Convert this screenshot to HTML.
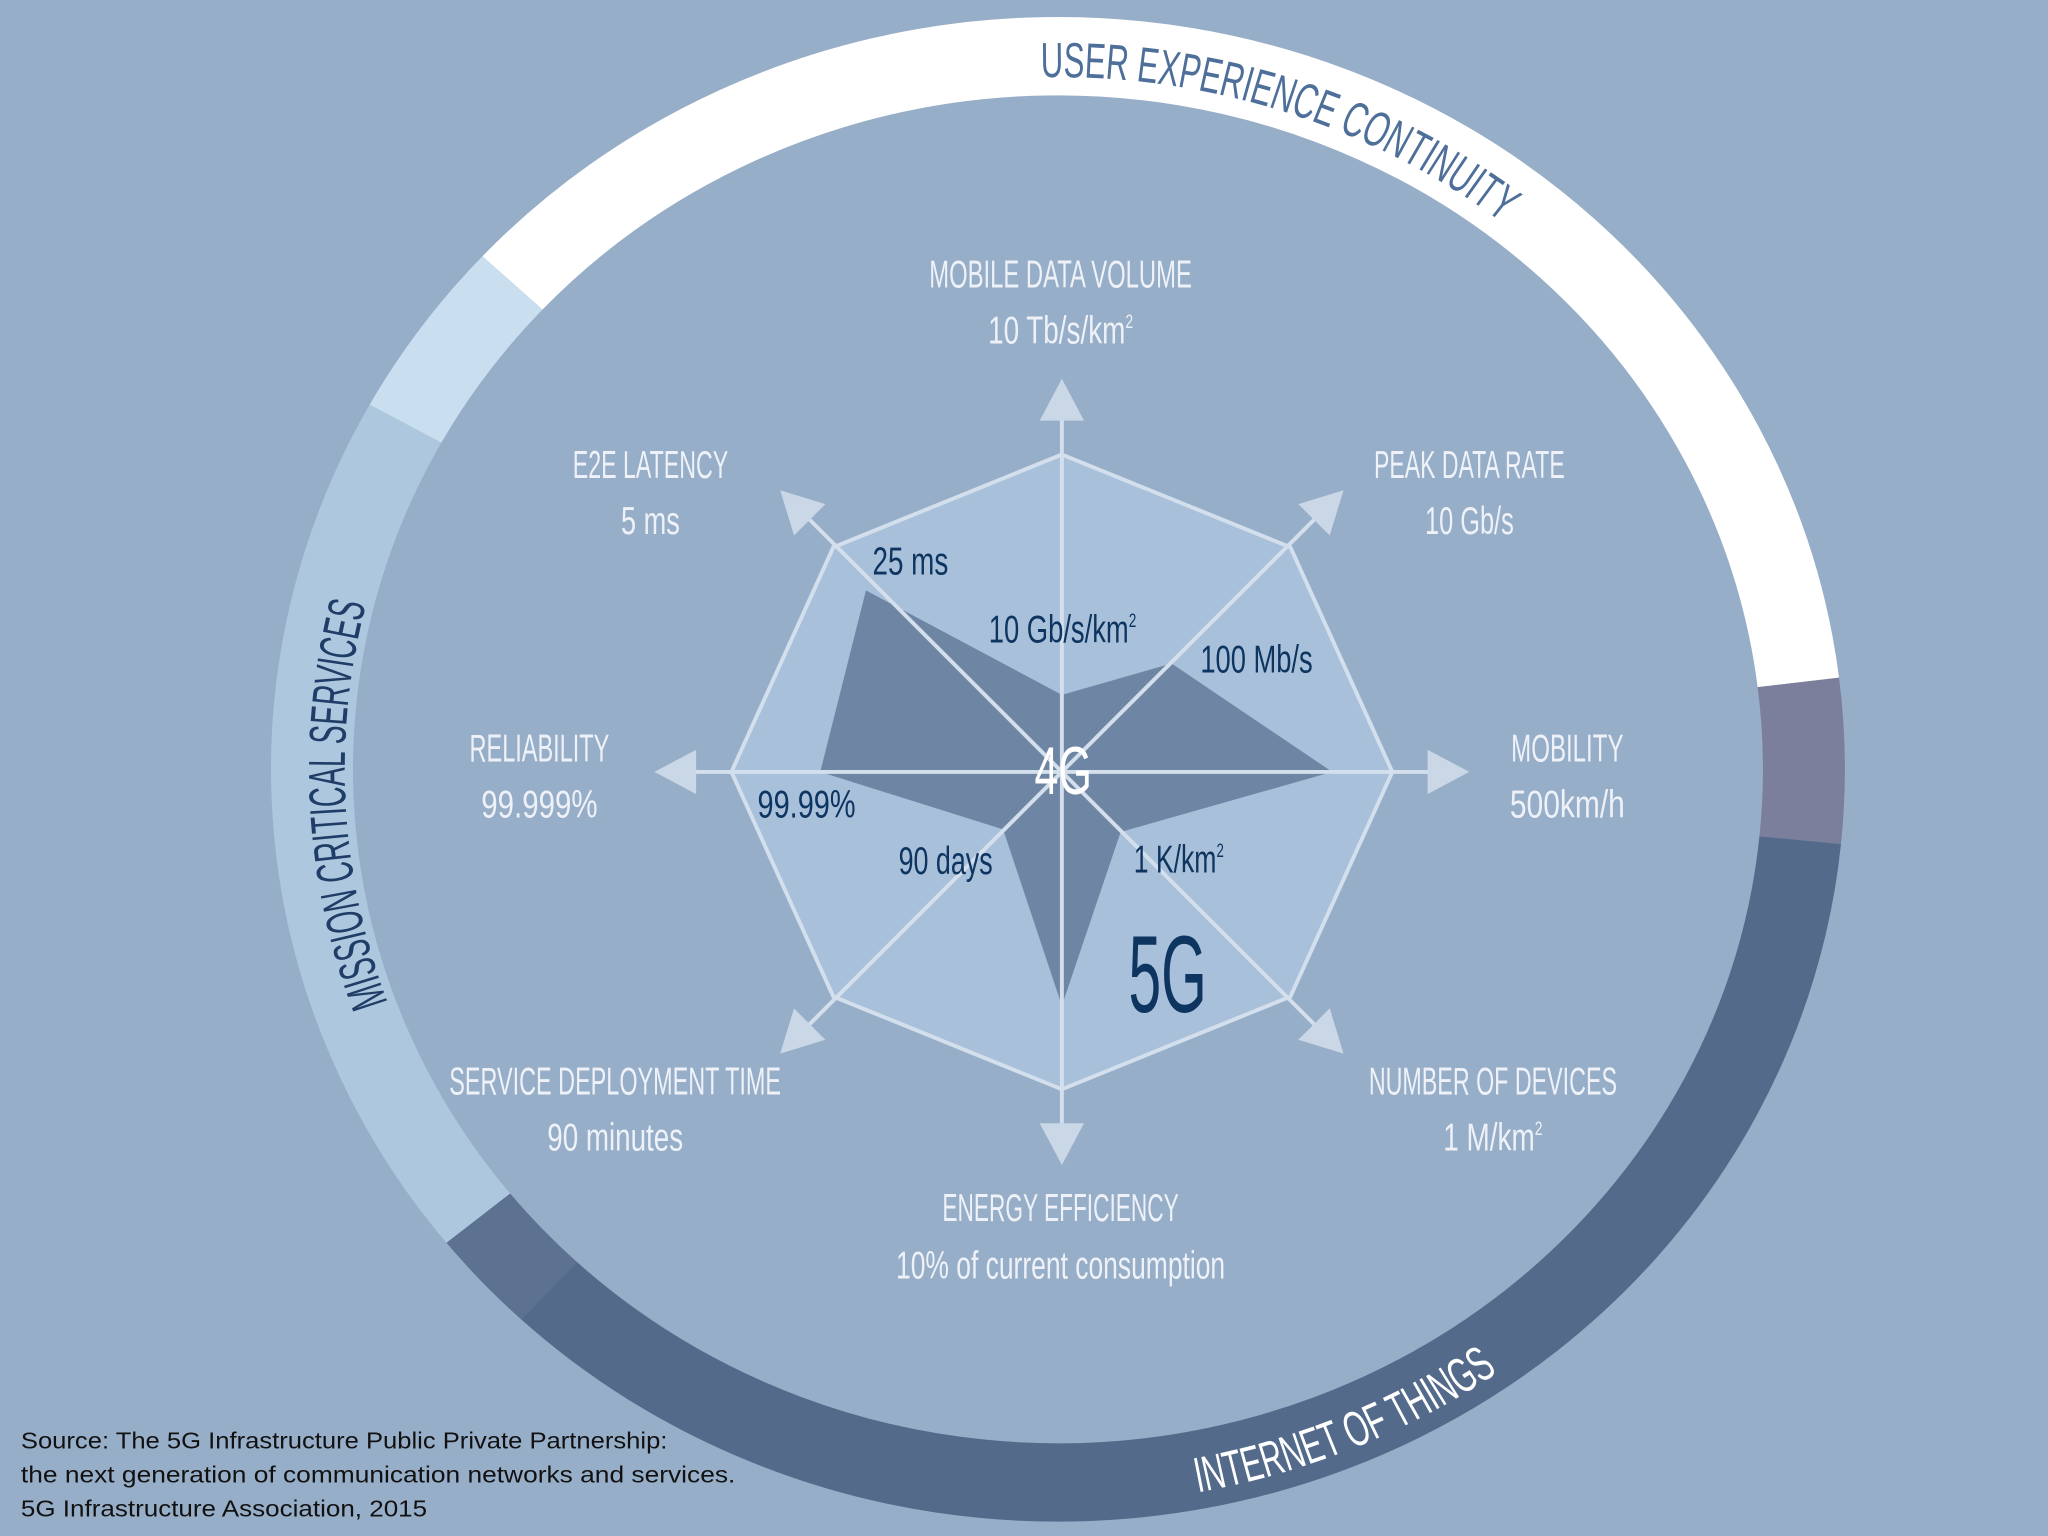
<!DOCTYPE html>
<html><head><meta charset="utf-8"><style>
html,body{margin:0;padding:0;background:#97aec8;overflow:hidden;width:2048px;height:1536px;}
svg{display:block;position:absolute;left:0;top:0;}
.c{font-family:"Liberation Sans Narrow","Liberation Sans",sans-serif;}
</style></head><body>
<svg width="2048" height="1536" viewBox="0 0 1568 1176" xmlns="http://www.w3.org/2000/svg">
<rect width="1568" height="1176" fill="#97aec8"/>
<g transform="translate(810 589) scale(1.046 1) translate(-810 -589)">
<g fill="none" stroke-width="60">
<circle cx="810" cy="589" r="546" stroke="#ffffff" stroke-dasharray="1238.8 4000" transform="rotate(-137 810 589)"/>
<circle cx="810" cy="589" r="546" stroke="#7b7f9c" stroke-dasharray="121 4000" transform="rotate(-7 810 589)"/>
<circle cx="810" cy="589" r="546" stroke="#536a8b" stroke-dasharray="1213.1 4000" transform="rotate(5.7 810 589)"/>
<circle cx="810" cy="589" r="546" stroke="#5d7190" stroke-dasharray="76.2 4000" transform="rotate(133 810 589)"/>
<circle cx="810" cy="589" r="546" stroke="#adc7df" stroke-dasharray="648 4000" transform="rotate(141 810 589)"/>
<circle cx="810" cy="589" r="546" stroke="#c9deef" stroke-dasharray="133.4 4000" transform="rotate(209 810 589)"/>
</g>
<defs>
<path id="pUser" d="M718,67.1 A530,530 0 0 1 1216,248.3"/>
<path id="pMis" d="M357.9,850 A522,522 0 0 1 357.9,328"/>
<path id="pIot" d="M810,1152 A563,563 0 0 0 1208.1,987.1"/>
</defs>
<text class="c" font-size="38" fill="#4d6f99"><textPath href="#pUser" startOffset="80" textLength="362" lengthAdjust="spacingAndGlyphs">USER EXPERIENCE CONTINUITY</textPath></text>
<text class="c" font-size="38" fill="#1f3d66"><textPath href="#pMis" startOffset="91" textLength="310" lengthAdjust="spacingAndGlyphs">MISSION CRITICAL SERVICES</textPath></text>
<text class="c" font-size="38" fill="#ffffff"><textPath href="#pIot" startOffset="103" textLength="240" lengthAdjust="spacingAndGlyphs">INTERNET OF THINGS</textPath></text>
</g>

<polygon points="813,348 988,419 1066,591 988,763 813,834 638,763 560,591 638,419" fill="#a9c0da" stroke="#d3dfec" stroke-width="3"/>
<polygon points="813,532 897,508 1020,591 858,637 813,770 768,635 628,591 663,452" fill="#6e86a3"/>
<g stroke="#d3dfec" stroke-width="3">
<line x1="813" y1="591" x2="813" y2="310" transform="rotate(0 813 591)"/>
<line x1="813" y1="591" x2="813" y2="310" transform="rotate(45 813 591)"/>
<line x1="813" y1="591" x2="813" y2="310" transform="rotate(90 813 591)"/>
<line x1="813" y1="591" x2="813" y2="310" transform="rotate(135 813 591)"/>
<line x1="813" y1="591" x2="813" y2="310" transform="rotate(180 813 591)"/>
<line x1="813" y1="591" x2="813" y2="310" transform="rotate(225 813 591)"/>
<line x1="813" y1="591" x2="813" y2="310" transform="rotate(270 813 591)"/>
<line x1="813" y1="591" x2="813" y2="310" transform="rotate(315 813 591)"/>
</g>
<g fill="#c9d7e6">
<polygon points="813,290 830,322 796,322" transform="rotate(0 813 591)"/>
<polygon points="813,286 830,318 796,318" transform="rotate(45 813 591)"/>
<polygon points="813,279 830,311 796,311" transform="rotate(90 813 591)"/>
<polygon points="813,286 830,318 796,318" transform="rotate(135 813 591)"/>
<polygon points="813,290 830,322 796,322" transform="rotate(180 813 591)"/>
<polygon points="813,286 830,318 796,318" transform="rotate(225 813 591)"/>
<polygon points="813,279 830,311 796,311" transform="rotate(270 813 591)"/>
<polygon points="813,286 830,318 796,318" transform="rotate(315 813 591)"/>
</g>

<g class="c" fill="#eef2f8" font-size="30" text-anchor="middle">
<text x="812" y="220" textLength="201" lengthAdjust="spacingAndGlyphs">MOBILE DATA VOLUME</text>
<text x="812" y="263" textLength="111" lengthAdjust="spacingAndGlyphs">10 Tb/s/km<tspan font-size="15" dy="-12">2</tspan></text>
<text x="498" y="366" textLength="119" lengthAdjust="spacingAndGlyphs">E2E LATENCY</text>
<text x="498" y="409" textLength="45" lengthAdjust="spacingAndGlyphs">5 ms</text>
<text x="1125" y="366" textLength="146" lengthAdjust="spacingAndGlyphs">PEAK DATA RATE</text>
<text x="1125" y="409" textLength="68" lengthAdjust="spacingAndGlyphs">10 Gb/s</text>
<text x="413" y="583" textLength="107" lengthAdjust="spacingAndGlyphs">RELIABILITY</text>
<text x="413" y="626" textLength="89" lengthAdjust="spacingAndGlyphs">99.999%</text>
<text x="1200" y="583" textLength="86" lengthAdjust="spacingAndGlyphs">MOBILITY</text>
<text x="1200" y="626" textLength="88" lengthAdjust="spacingAndGlyphs">500km/h</text>
<text x="471" y="838" textLength="254" lengthAdjust="spacingAndGlyphs">SERVICE DEPLOYMENT TIME</text>
<text x="471" y="881" textLength="104" lengthAdjust="spacingAndGlyphs">90 minutes</text>
<text x="1143" y="838" textLength="190" lengthAdjust="spacingAndGlyphs">NUMBER OF DEVICES</text>
<text x="1143" y="881" textLength="76" lengthAdjust="spacingAndGlyphs">1 M/km<tspan font-size="15" dy="-12">2</tspan></text>
<text x="812" y="935" textLength="181" lengthAdjust="spacingAndGlyphs">ENERGY EFFICIENCY</text>
<text x="812" y="979" textLength="252" lengthAdjust="spacingAndGlyphs">10% of current consumption</text>
</g>
<g class="c" fill="#0d3560" font-size="30">
<text x="668" y="440" textLength="58" lengthAdjust="spacingAndGlyphs">25 ms</text>
<text x="757" y="492" textLength="113" lengthAdjust="spacingAndGlyphs">10 Gb/s/km<tspan font-size="15" dy="-12">2</tspan></text>
<text x="919" y="515" textLength="86" lengthAdjust="spacingAndGlyphs">100 Mb/s</text>
<text x="580" y="626" textLength="75" lengthAdjust="spacingAndGlyphs">99.99%</text>
<text x="688" y="669" textLength="72" lengthAdjust="spacingAndGlyphs">90 days</text>
<text x="868" y="668" textLength="69" lengthAdjust="spacingAndGlyphs">1 K/km<tspan font-size="15" dy="-12">2</tspan></text>
</g>
<text class="c" x="814" y="608" font-size="52" fill="#ffffff" text-anchor="middle" textLength="44" lengthAdjust="spacingAndGlyphs">4G</text>
<text class="c" x="894" y="775" font-size="84" fill="#0d3560" text-anchor="middle" textLength="60" lengthAdjust="spacingAndGlyphs">5G</text>

<g font-family="'Liberation Sans',sans-serif" font-size="18" fill="#111">
<text x="16" y="1109" textLength="495" lengthAdjust="spacingAndGlyphs">Source: The 5G Infrastructure Public Private Partnership:</text>
<text x="16" y="1135" textLength="547" lengthAdjust="spacingAndGlyphs">the next generation of communication networks and services.</text>
<text x="16" y="1161" textLength="311" lengthAdjust="spacingAndGlyphs">5G Infrastructure Association, 2015</text>
</g>
</svg>
</body></html>
